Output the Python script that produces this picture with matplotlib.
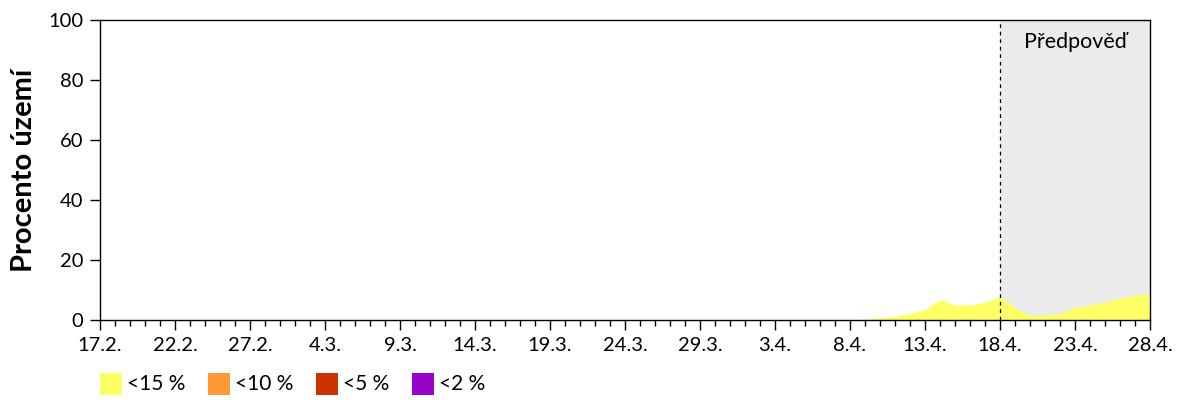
import matplotlib
matplotlib.use("Agg")
import matplotlib.pyplot as plt
from matplotlib.patches import Rectangle
from matplotlib.ticker import MultipleLocator, FixedLocator

# Data: day offsets from 17.2. and percent of territory (<15 %)
days = [0, 48, 49, 50, 51, 52, 53, 54, 55, 55.5, 56, 56.5, 57, 58, 59, 59.5, 60,
        60.5, 61, 61.5, 62, 63, 64, 64.5, 65, 66, 67, 68, 69, 70]
lt15 = [0, 0, 0, 0.1, 0.3, 0.7, 1.2, 2.2, 3.5, 5.2, 6.8, 6.0, 5.0, 5.0, 6.0, 6.8, 7.8,
        6.1, 4.0, 2.8, 1.5, 1.6, 2.2, 3.2, 4.2, 5.0, 6.0, 7.2, 8.3, 8.8]

tick_days = [0, 5, 10, 15, 20, 25, 30, 35, 40, 45, 50, 55, 60, 65, 70]
tick_labels = ["17.2.", "22.2.", "27.2.", "4.3.", "9.3.", "14.3.", "19.3.", "24.3.",
               "29.3.", "3.4.", "8.4.", "13.4.", "18.4.", "23.4.", "28.4."]
forecast_start = 60
forecast_end = 70

legend_labels = ["<15 %", "<10 %", "<5 %", "<2 %"]
legend_colors = ["#FFFF66", "#FF9933", "#CC3300", "#9900CC"]

plt.rcParams['font.family'] = ['Lato', 'DejaVu Sans']

W, H = 1200, 400
fig = plt.figure(figsize=(12, 4), dpi=100)
ax = fig.add_axes([100/W, 80/H, 1050/W, 300/H])

ax.axvspan(forecast_start, forecast_end, color="#EBEBEB", lw=0, zorder=0)
ax.fill_between(days, lt15, 0, color=legend_colors[0], lw=0, zorder=1)
ax.axvline(forecast_start, color="black", ls=(0, (3, 3)), lw=0.9, zorder=2)
ax.text((forecast_start + forecast_end) / 2, 92.5, "Předpověď", ha="center", va="center",
        fontsize=15.5)

ax.set_xlim(0, 70)
ax.set_ylim(0, 100)
ax.xaxis.set_major_locator(FixedLocator(tick_days))
ax.set_xticklabels(tick_labels)
ax.xaxis.set_minor_locator(MultipleLocator(1))
ax.yaxis.set_major_locator(MultipleLocator(20))
ax.tick_params(axis="both", which="major", direction="out", length=7, width=1,
               labelsize=14.5, pad=5)
ax.tick_params(axis="x", which="minor", direction="out", length=4, width=1)
ax.set_ylabel("Procento území", fontsize=21, fontweight="bold", labelpad=8)
for s in ax.spines.values():
    s.set_linewidth(1)

# Legend drawn in figure pixel coordinates
legend_x = [100, 208, 316, 412]
for x, lab, col in zip(legend_x, legend_labels, legend_colors):
    fig.patches.append(Rectangle((x / W, (H - 395) / H), 22 / W, 22 / H,
                                 transform=fig.transFigure, facecolor=col,
                                 edgecolor="none"))
    fig.text((x + 27) / W, (H - 384) / H, lab, ha="left", va="center", fontsize=15)

fig.savefig("out.png", dpi=100)
